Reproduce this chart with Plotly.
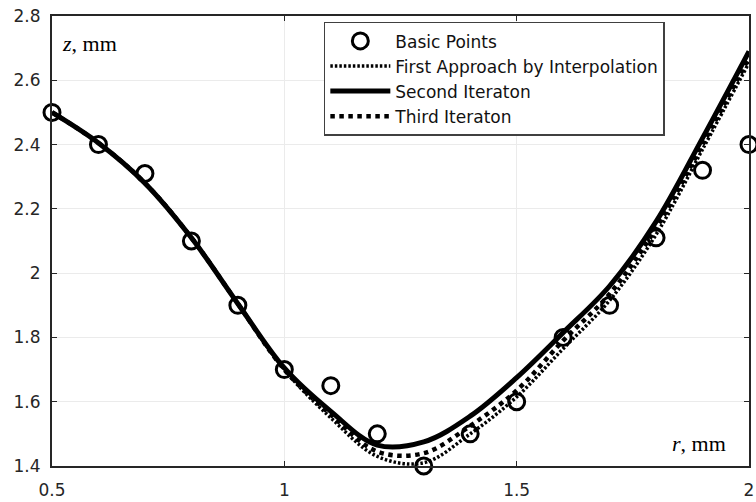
import plotly.graph_objects as go

# Data
r_pts = [0.5, 0.6, 0.7, 0.8, 0.9, 1.0, 1.1, 1.2, 1.3, 1.4, 1.5, 1.6, 1.7, 1.8, 1.9, 2.0]
z_pts = [2.50, 2.40, 2.31, 2.10, 1.90, 1.70, 1.65, 1.50, 1.40, 1.50, 1.60, 1.80, 1.90, 2.11, 2.32, 2.40]

r_curve = [0.5, 0.6, 0.7, 0.8, 0.9, 1.0, 1.1, 1.2, 1.3, 1.4, 1.5, 1.6, 1.7, 1.8, 1.9, 2.0]
z_first = [2.50, 2.405, 2.28, 2.11, 1.905, 1.70, 1.55, 1.43, 1.41, 1.50, 1.615, 1.765, 1.915, 2.12, 2.385, 2.655]
z_second = [2.50, 2.405, 2.28, 2.11, 1.905, 1.705, 1.57, 1.465, 1.475, 1.555, 1.675, 1.815, 1.96, 2.16, 2.42, 2.69]
z_third = [2.50, 2.405, 2.28, 2.11, 1.905, 1.70, 1.56, 1.445, 1.44, 1.525, 1.635, 1.79, 1.935, 2.14, 2.40, 2.67]

x_ticks = [0.5, 1, 1.5, 2]
x_ticktext = ["0.5", "1", "1.5", "2"]
y_ticks = [1.4, 1.6, 1.8, 2.0, 2.2, 2.4, 2.6, 2.8]
y_ticktext = ["1.4", "1.6", "1.8", "2", "2.2", "2.4", "2.6", "2.8"]

fig = go.Figure()
fig.add_trace(go.Scatter(
    x=r_pts, y=z_pts, mode="markers", name="Basic Points", cliponaxis=False,
    marker=dict(symbol="circle-open", size=16, color="black", line=dict(width=3, color="black")),
))
fig.add_trace(go.Scatter(
    x=r_curve, y=z_first, mode="lines", name="First Approach by Interpolation",
    line=dict(color="black", width=3.5, dash="2.5px,2px", shape="spline"),
))
fig.add_trace(go.Scatter(
    x=r_curve, y=z_second, mode="lines", name="Second Iteraton",
    line=dict(color="black", width=5, shape="spline"),
))
fig.add_trace(go.Scatter(
    x=r_curve, y=z_third, mode="lines", name="Third Iteraton",
    line=dict(color="black", width=4.5, dash="4.5px,4.5px", shape="spline"),
))

axis_common = dict(
    showline=True, linecolor="#262626", linewidth=2, mirror="ticks",
    ticks="inside", ticklen=5, tickwidth=1, tickcolor="#262626",
    showgrid=True, gridcolor="#ebebeb", gridwidth=1, zeroline=False,
    tickfont=dict(family="DejaVu Sans", size=17, color="#262626"),
)

fig.update_xaxes(range=[0.5, 2.0], tickvals=x_ticks, ticktext=x_ticktext,
                 ticklabelstandoff=8, ticklabeloverflow="allow", **axis_common)
fig.update_yaxes(range=[1.4, 2.8], tickvals=y_ticks, ticktext=y_ticktext,
                 ticklabelstandoff=6, ticklabeloverflow="allow", **axis_common)

fig.update_layout(
    width=756, height=502,
    margin=dict(l=52, r=2, t=16, b=34),
    paper_bgcolor="white", plot_bgcolor="white",
    showlegend=True,
    legend=dict(
        x=0.39, y=0.987, xanchor="left", yanchor="top",
        bgcolor="white", bordercolor="#404040", borderwidth=1.5,
        font=dict(family="DejaVu Sans", size=17, color="#111111"),
        itemwidth=60, tracegroupgap=0,
    ),
    annotations=[
        dict(text="<i>z</i>, mm", xref="paper", yref="paper", x=0.012, y=0.94,
             xanchor="left", yanchor="middle", showarrow=False,
             font=dict(family="Liberation Serif", size=22, color="black")),
        dict(text="<i>r</i>, mm", xref="paper", yref="paper", x=0.97, y=0.051,
             xanchor="right", yanchor="middle", showarrow=False,
             font=dict(family="Liberation Serif", size=22, color="black")),
    ],
)

fig.write_html("out.html")
